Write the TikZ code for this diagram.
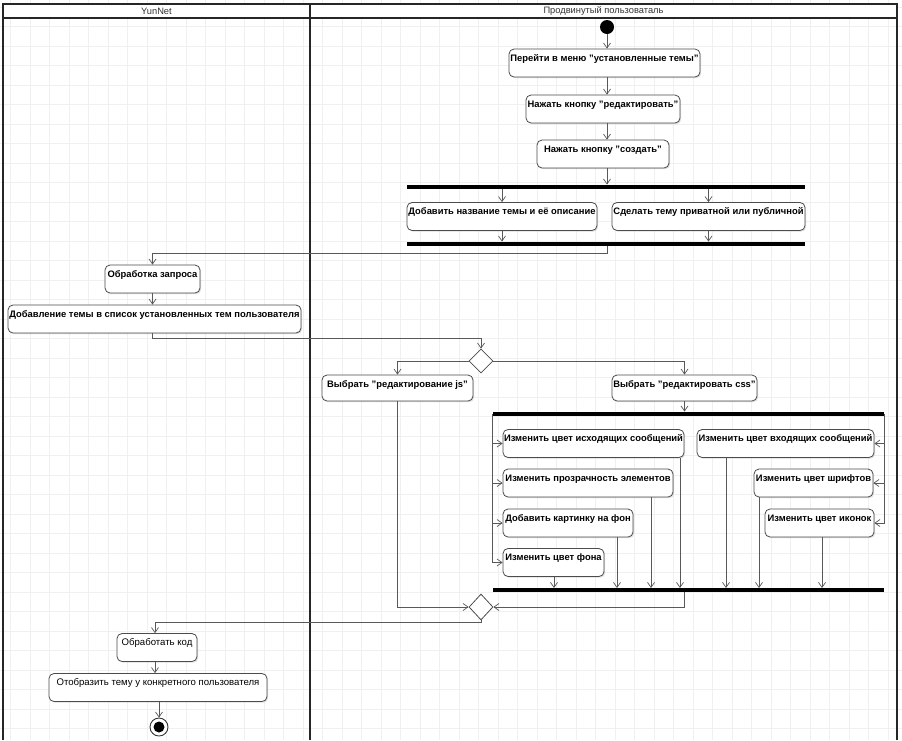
\documentclass[tikz,border=0pt]{standalone}
\usepackage{fontspec}
\setmainfont{Liberation Sans}
\usetikzlibrary{arrows.meta,shapes.geometric,shadows}
\begin{document}
\begin{tikzpicture}[x=1pt,y=-1pt,
  gridline/.style={draw=black!6, line width=0.6pt},
  lane/.style={draw=black!85, line width=1.4pt},
  lanehead/.style={font=\fontsize{9.3}{10}\selectfont, text=black!80, inner sep=0},
  act/.style={draw=black!70, line width=0.8pt, fill=white, rounded corners=5pt,
    inner xsep=1pt, inner ysep=0pt, text height=12pt, text depth=16pt,
    font=\fontsize{9.4}{11}\selectfont\bfseries,
    drop shadow={shadow xshift=1.2pt, shadow yshift=-1.2pt, opacity=0.25}},
  actreg/.style={act, font=\fontsize{9.6}{11}\selectfont},
  bar/.style={fill=black, inner sep=0pt, minimum height=4.5pt},
  diam/.style={diamond, draw=black!70, line width=0.8pt, fill=white,
    minimum width=24pt, minimum height=24pt, inner sep=0pt},
  startdot/.style={circle, fill=black, minimum size=14pt, inner sep=0pt},
  enddot/.style={circle, draw=black!80, line width=0.9pt, fill=white, minimum size=18pt, inner sep=0pt,
    path picture={\fill[black] (path picture bounding box.center) circle (5.5pt);}},
  flow/.style={draw=black!65, line width=0.7pt,
    -{Straight Barb[length=5pt, width=7pt, line width=0.7pt]}}
]
\useasboundingbox (0,0) rectangle (902,740);
\fill[white] (0,0) rectangle (902,740);
\foreach \x in {10.5,30,...,900} \draw[gridline] (\x,0) -- (\x,740);
\foreach \y in {7,26.5,...,740} \draw[gridline] (0,\y) -- (902,\y);
\fill[white] (3,4) rectangle (897,18);
\draw[lane] (3,740) -- (3,4) -- (897,4) -- (897,740);
\draw[lane] (3,18) -- (897,18);
\draw[lane] (310,4) -- (310,740);
\node[lanehead] (hy) at (156.5,11.5) {YunNet};
\node[lanehead] (hu) at (603.5,11.5) {Продвинутый пользоваталь};

% nodes
\node[startdot] (init) at (607,27) {};
\node[act, minimum width=191pt] (p1) at (604.5,63) {Перейти в меню "установленные темы"};
\node[act, minimum width=154pt] (p2) at (603,109) {Нажать кнопку "редактировать"};
\node[act, minimum width=132pt] (p3) at (603,154) {Нажать кнопку "создать"};
\node[bar, minimum width=398pt] (fork1) at (606,187) {};
\node[act, minimum width=190pt] (p4) at (502,216.5) {Добавить название темы и её описание};
\node[act, minimum width=193pt] (p5) at (708.5,216.5) {Сделать тему приватной или публичной};
\node[bar, minimum width=398pt] (join1) at (606,244) {};
\node[act, minimum width=95pt] (y1) at (152.5,279) {Обработка запроса};
\node[act, minimum width=293pt] (y2) at (154.5,319) {Добавление темы в список установленных тем пользователя};
\node[diam] (d1) at (481,361) {};
\node[act, minimum width=151pt, text depth=14pt] (js) at (397.5,388) {Выбрать "редактирование js"};
\node[act, minimum width=145pt, text depth=14pt] (css) at (684.5,388) {Выбрать "редактировать css"};
\node[bar, minimum width=391pt] (fork2) at (688.5,414) {};
\node[act, minimum width=181pt] (c1) at (593.5,443.5) {Изменить цвет исходящих сообщений};
\node[act, minimum width=170pt] (c2) at (588,483) {Изменить прозрачность элементов};
\node[act, minimum width=130pt] (c3) at (568,523) {Добавить картинку на фон};
\node[act, minimum width=101pt] (c4) at (553.5,562.5) {Изменить цвет фона};
\node[act, minimum width=177pt] (c5) at (785.5,443.5) {Изменить цвет входящих сообщений};
\node[act, minimum width=119pt] (c6) at (813.5,483) {Изменить цвет шрифтов};
\node[act, minimum width=109pt] (c7) at (819.5,523) {Изменить цвет иконок};
\node[bar, minimum width=391pt] (join2) at (688.5,590) {};
\node[diam, minimum height=26pt] (d2) at (481,607) {};
\node[actreg, minimum width=80pt] (y3) at (157,647.5) {Обработать код};
\node[actreg, minimum width=218pt] (y4) at (158,687.5) {Отобразить тему у конкретного пользователя};
\node[enddot] (fin) at (159,727) {};

% helper coordinates
\coordinate (k1) at (607,253);
\coordinate (k2) at (152.5,338);
\coordinate (k3) at (155,622);
\coordinate (e1) at (680,588);
\coordinate (e2) at (651,588);
\coordinate (e3) at (617,588);
\coordinate (e4) at (554,588);
\coordinate (e5) at (726,588);
\coordinate (e6) at (759,588);
\coordinate (e7) at (822,588);

% connectors
\draw[flow] (init) -- (init |- p1.north);
\draw[flow] (init |- p1.south) -- (init |- p2.north);
\draw[flow] (init |- p2.south) -- (init |- p3.north);
\draw[flow] (init |- p3.south) -- (init |- fork1.north);
\draw[flow] (p4 |- fork1.south) -- (p4.north);
\draw[flow] (p5 |- fork1.south) -- (p5.north);
\draw[flow] (p4.south) -- (p4 |- join1.north);
\draw[flow] (p5.south) -- (p5 |- join1.north);
\draw[flow] (init |- join1.south) -- (k1) -| (y1.north);
\draw[flow] (y1.south) -- (y1 |- y2.north);
\draw[flow] (k2 |- y2.south) -- (k2) -| (d1.north);
\draw[flow] (d1.west) -| (js.north);
\draw[flow] (d1.east) -| (css.north);
\draw[flow] (css.south) -- (css |- fork2.north);
\draw[flow] (fork2.west) |- (c1.west);
\draw[flow] (fork2.west) |- (c2.west);
\draw[flow] (fork2.west) |- (c3.west);
\draw[flow] (fork2.west) |- (c4.west);
\draw[flow] (fork2.east) |- (c5.east);
\draw[flow] (fork2.east) |- (c6.east);
\draw[flow] (fork2.east) |- (c7.east);
\draw[flow] (e1 |- c1.south) -- (e1);
\draw[flow] (e2 |- c2.south) -- (e2);
\draw[flow] (e3 |- c3.south) -- (e3);
\draw[flow] (e4 |- c4.south) -- (e4);
\draw[flow] (e5 |- c5.south) -- (e5);
\draw[flow] (e6 |- c6.south) -- (e6);
\draw[flow] (e7 |- c7.south) -- (e7);
\draw[flow] (css |- join2.south) |- (d2.east);
\draw[flow] (js.south) |- (d2.west);
\draw[flow] (d2.south) |- (k3) -- (k3 |- y3.north);
\draw[flow] (k3 |- y3.south) -- (k3 |- y4.north);
\draw[flow] (fin |- y4.south) -- (fin.north);
\end{tikzpicture}
\end{document}
